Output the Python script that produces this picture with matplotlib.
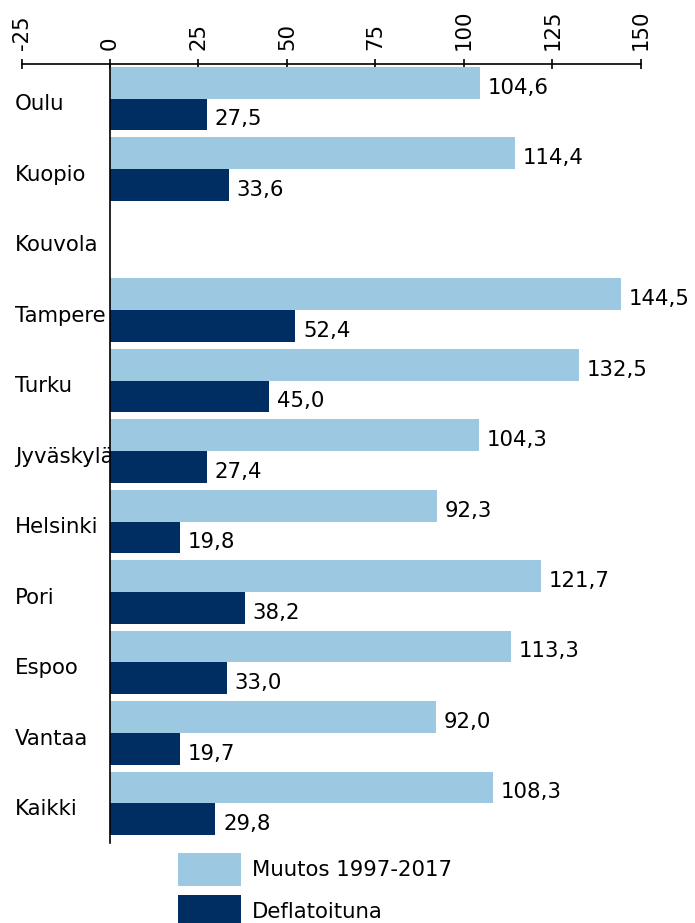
import numpy as np
import matplotlib.pyplot as plt
import matplotlib

matplotlib.rc("font", size=15.3, family="DejaVu Sans")
matplotlib.rc("axes", unicode_minus=False)

cities = ["Oulu", "Kuopio", "Kouvola", "Tampere", "Turku", "Jyväskylä",
          "Helsinki", "Pori", "Espoo", "Vantaa", "Kaikki"]
muutos = [104.6, 114.4, np.nan, 144.5, 132.5, 104.3, 92.3, 121.7, 113.3, 92.0, 108.3]
deflat = [27.5, 33.6, np.nan, 52.4, 45.0, 27.4, 19.8, 38.2, 33.0, 19.7, 29.8]
xticks = [-25, 0, 25, 50, 75, 100, 125, 150]

light = "#9dc8e2"
dark = "#002d62"

fig = plt.figure(figsize=(6.95, 9.23), dpi=100)
ax = fig.add_axes([0.031, 0.0867, 0.891, 0.844])

y = np.arange(len(cities))
h = 0.45
ax.barh(y - h / 2, muutos, height=h, color=light, zorder=2, label="Muutos 1997-2017")
ax.barh(y + h / 2, deflat, height=h, color=dark, zorder=2, label="Deflatoituna")

def fmt(v):
    return f"{v:.1f}".replace(".", ",")

for yi, v in zip(y - h / 2, muutos):
    if not np.isnan(v):
        ax.annotate(fmt(v), (v, yi), xytext=(5.5, -3.5), textcoords="offset points",
                    ha="left", va="center", zorder=3)
for yi, v in zip(y + h / 2, deflat):
    if not np.isnan(v):
        ax.annotate(fmt(v), (v, yi), xytext=(5.5, -3.5), textcoords="offset points",
                    ha="left", va="center", zorder=3)

for yi, name in zip(y, cities):
    ax.text(-26.8, yi + 0.08, name, ha="left", va="center", zorder=1)

ax.set_xlim(-25, 150)
ax.set_ylim(10.56, -0.49)
ax.set_xticks(xticks)
ax.set_yticks([])
ax.xaxis.tick_top()
ax.tick_params(axis="x", direction="inout", length=7, width=1.2, rotation=90, pad=6.5)
for lbl in ax.get_xticklabels():
    lbl.set_verticalalignment("bottom")

ax.spines["right"].set_visible(False)
ax.spines["bottom"].set_visible(False)
ax.spines["left"].set_position(("data", 0))
ax.spines["top"].set_linewidth(1.2)
ax.spines["left"].set_linewidth(1.2)

fig.legend(loc="upper left", bbox_to_anchor=(178 / 695, 1 - 853 / 923),
           frameon=False, borderpad=0, borderaxespad=0,
           handlelength=2.95, handleheight=2.0, labelspacing=0.43, handletextpad=0.55)

fig.savefig("out.png", dpi=100)
